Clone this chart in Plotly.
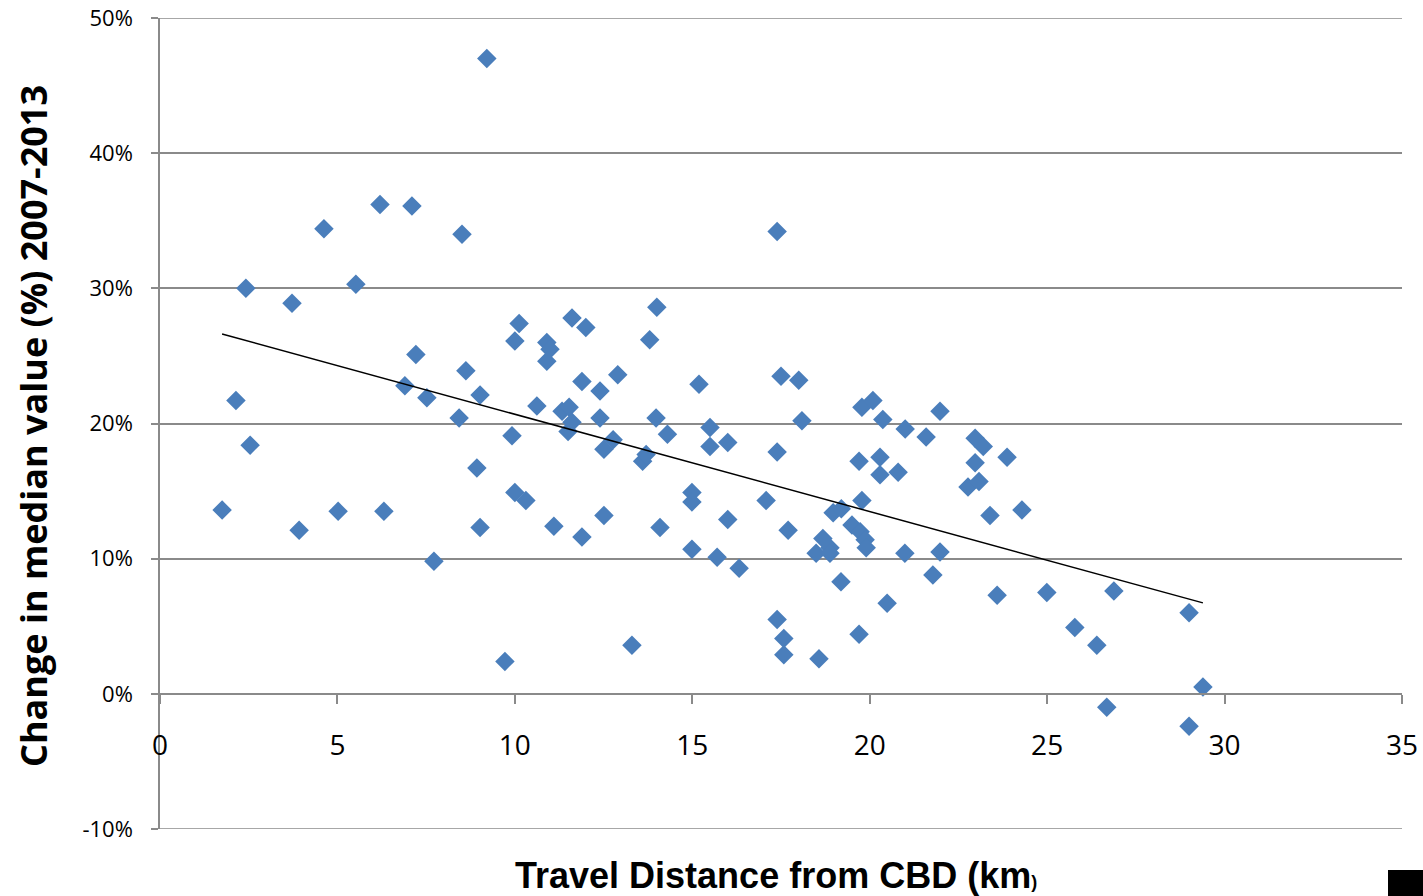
import numpy as np
import plotly.graph_objects as go

distance_km = [
    1.75, 2.14, 2.42, 2.54, 3.72, 3.92, 4.62, 5.02, 5.52, 6.2, 6.31, 7.1, 7.21, 6.9, 7.52, 7.72,
    8.43, 8.51, 8.62, 8.93, 9.02, 9.02, 9.21, 9.72, 9.92, 10.0, 10.0, 10.12, 10.31, 10.62, 10.9,
    10.99, 10.9, 11.1, 11.33, 11.53, 11.5, 11.61, 11.61, 11.89, 11.89, 12.0, 12.4, 12.4, 12.51,
    12.51, 12.77, 12.9, 13.3, 13.6, 13.7, 13.8, 14.0, 13.98, 14.09, 14.3, 15.19, 17.5, 18.0,
    15.5, 15.5, 16.0, 18.09, 17.39, 19.78, 20.09, 20.37, 21.0, 21.59, 21.98, 22.97, 23.2, 22.97,
    23.87, 19.7, 20.29, 20.29, 20.8, 22.77, 23.08, 23.39, 24.29, 14.99, 14.99, 16.0, 17.08, 17.7,
    19.78, 18.97, 19.2, 19.5, 19.73, 19.87, 18.68, 18.88, 18.49, 18.88, 19.9, 20.99, 21.98, 14.99,
    15.7, 16.32, 19.19, 21.78, 23.59, 24.99, 20.49, 25.78, 17.39, 17.58, 17.58, 19.7, 18.57,
    17.39, 26.4, 26.88, 29.0, 29.39, 26.68, 29.0,
]
change_pct = [
    13.6, 21.7, 30.0, 18.4, 28.9, 12.1, 34.4, 13.5, 30.3, 36.2, 13.5, 36.1, 25.1, 22.8, 21.9, 9.8,
    20.4, 34.0, 23.9, 16.7, 22.1, 12.3, 47.0, 2.4, 19.1, 26.1, 14.9, 27.4, 14.3, 21.3, 26.0,
    25.5, 24.6, 12.4, 20.9, 21.2, 19.4, 20.1, 27.8, 11.6, 23.1, 27.1, 22.4, 20.4, 18.1,
    13.2, 18.8, 23.6, 3.6, 17.2, 17.7, 26.2, 28.6, 20.4, 12.3, 19.2, 22.9, 23.5, 23.2,
    19.7, 18.3, 18.6, 20.2, 17.9, 21.2, 21.7, 20.3, 19.6, 19.0, 20.9, 18.9, 18.3, 17.1,
    17.5, 17.2, 17.5, 16.2, 16.4, 15.3, 15.7, 13.2, 13.6, 14.9, 14.2, 12.9, 14.3, 12.1,
    14.3, 13.4, 13.7, 12.5, 12.0, 11.4, 11.5, 10.8, 10.4, 10.4, 10.8, 10.4, 10.5, 10.7,
    10.1, 9.3, 8.3, 8.8, 7.3, 7.5, 6.7, 4.9, 5.5, 4.1, 2.9, 4.4, 2.6,
    34.2, 3.6, 7.6, 6.0, 0.5, -1.0, -2.4,
]

x_ticks = [0, 5, 10, 15, 20, 25, 30, 35]
y_ticks = [-10, 0, 10, 20, 30, 40, 50]
y_tick_labels = [f"{v}%" for v in y_ticks]

x_arr = np.array(distance_km)
y_arr = np.array(change_pct)
slope, intercept = np.polyfit(x_arr, y_arr, 1)
trend_x = [x_arr.min(), x_arr.max()]
trend_y = [slope * v + intercept for v in trend_x]

GRID = "#8a8a8a"
TICKFAMILY = "Open Sans, Liberation Sans, sans-serif"

fig = go.Figure()
fig.add_trace(go.Scatter(
    x=distance_km, y=change_pct, mode="markers",
    marker=dict(symbol="diamond", size=15, color="#4A7EBB", line=dict(width=0)),
    showlegend=False, hoverinfo="x+y",
))
fig.add_trace(go.Scatter(
    x=trend_x, y=trend_y, mode="lines",
    line=dict(color="#000000", width=1.5), showlegend=False, hoverinfo="skip",
))

y0_frac = (0 - (-10)) / (50 - (-10))

edge_lines = [
    dict(type="line", xref="paper", yref="y", x0=0, x1=1, y0=v, y1=v,
         line=dict(color=GRID, width=1.5), layer="below")
    for v in (y_ticks[0], y_ticks[-1])
]

fig.update_layout(
    width=1423, height=896,
    margin=dict(l=160, r=21, t=18, b=67),
    paper_bgcolor="white", plot_bgcolor="white",
    xaxis=dict(
        range=[0, 35], tickvals=x_ticks, ticktext=[str(v) for v in x_ticks],
        showgrid=False, zeroline=False, automargin=False,
        showline=True, linecolor=GRID, linewidth=1.5,
        ticks="outside", ticklen=9, tickwidth=1.5, tickcolor=GRID,
        anchor="free", position=y0_frac,
        ticklabelstandoff=18,
        tickfont=dict(family=TICKFAMILY, size=28, color="#000"),
    ),
    yaxis=dict(
        range=[-10, 50], tickvals=y_ticks, ticktext=y_tick_labels,
        showgrid=True, gridcolor=GRID, gridwidth=1.5, zeroline=False, automargin=False,
        showline=True, linecolor=GRID, linewidth=1.5,
        ticks="outside", ticklen=7, tickwidth=1.5, tickcolor=GRID,
        ticklabelstandoff=14,
        tickfont=dict(family=TICKFAMILY, size=22, color="#000"),
    ),
    annotations=[
        dict(
            text="Change in median value (%) 2007-2013",
            xref="paper", yref="paper", x=(33 - 160) / 1242, y=(829 - 426) / 811,
            textangle=-90, showarrow=False, xanchor="center", yanchor="middle",
            font=dict(family="Open Sans, sans-serif", size=36, color="#000", weight="bold"),
        ),
        dict(
            text='Travel Distance from CBD (km<span style="font-size:18px">)</span>',
            xref="paper", yref="paper", x=(776 - 160) / 1242, y=(829 - 875) / 811,
            showarrow=False, xanchor="center", yanchor="middle",
            font=dict(family="Liberation Sans, sans-serif",
                      size=36, color="#000", weight="bold"),
        ),
    ],
    shapes=edge_lines + [
        dict(type="rect", xref="paper", yref="paper",
             x0=(1388 - 160) / 1242, x1=(1430 - 160) / 1242,
             y0=(829 - 900) / 811, y1=(829 - 870) / 811,
             fillcolor="#000", line=dict(width=0), layer="above"),
    ],
)

fig.write_html("out.html")
